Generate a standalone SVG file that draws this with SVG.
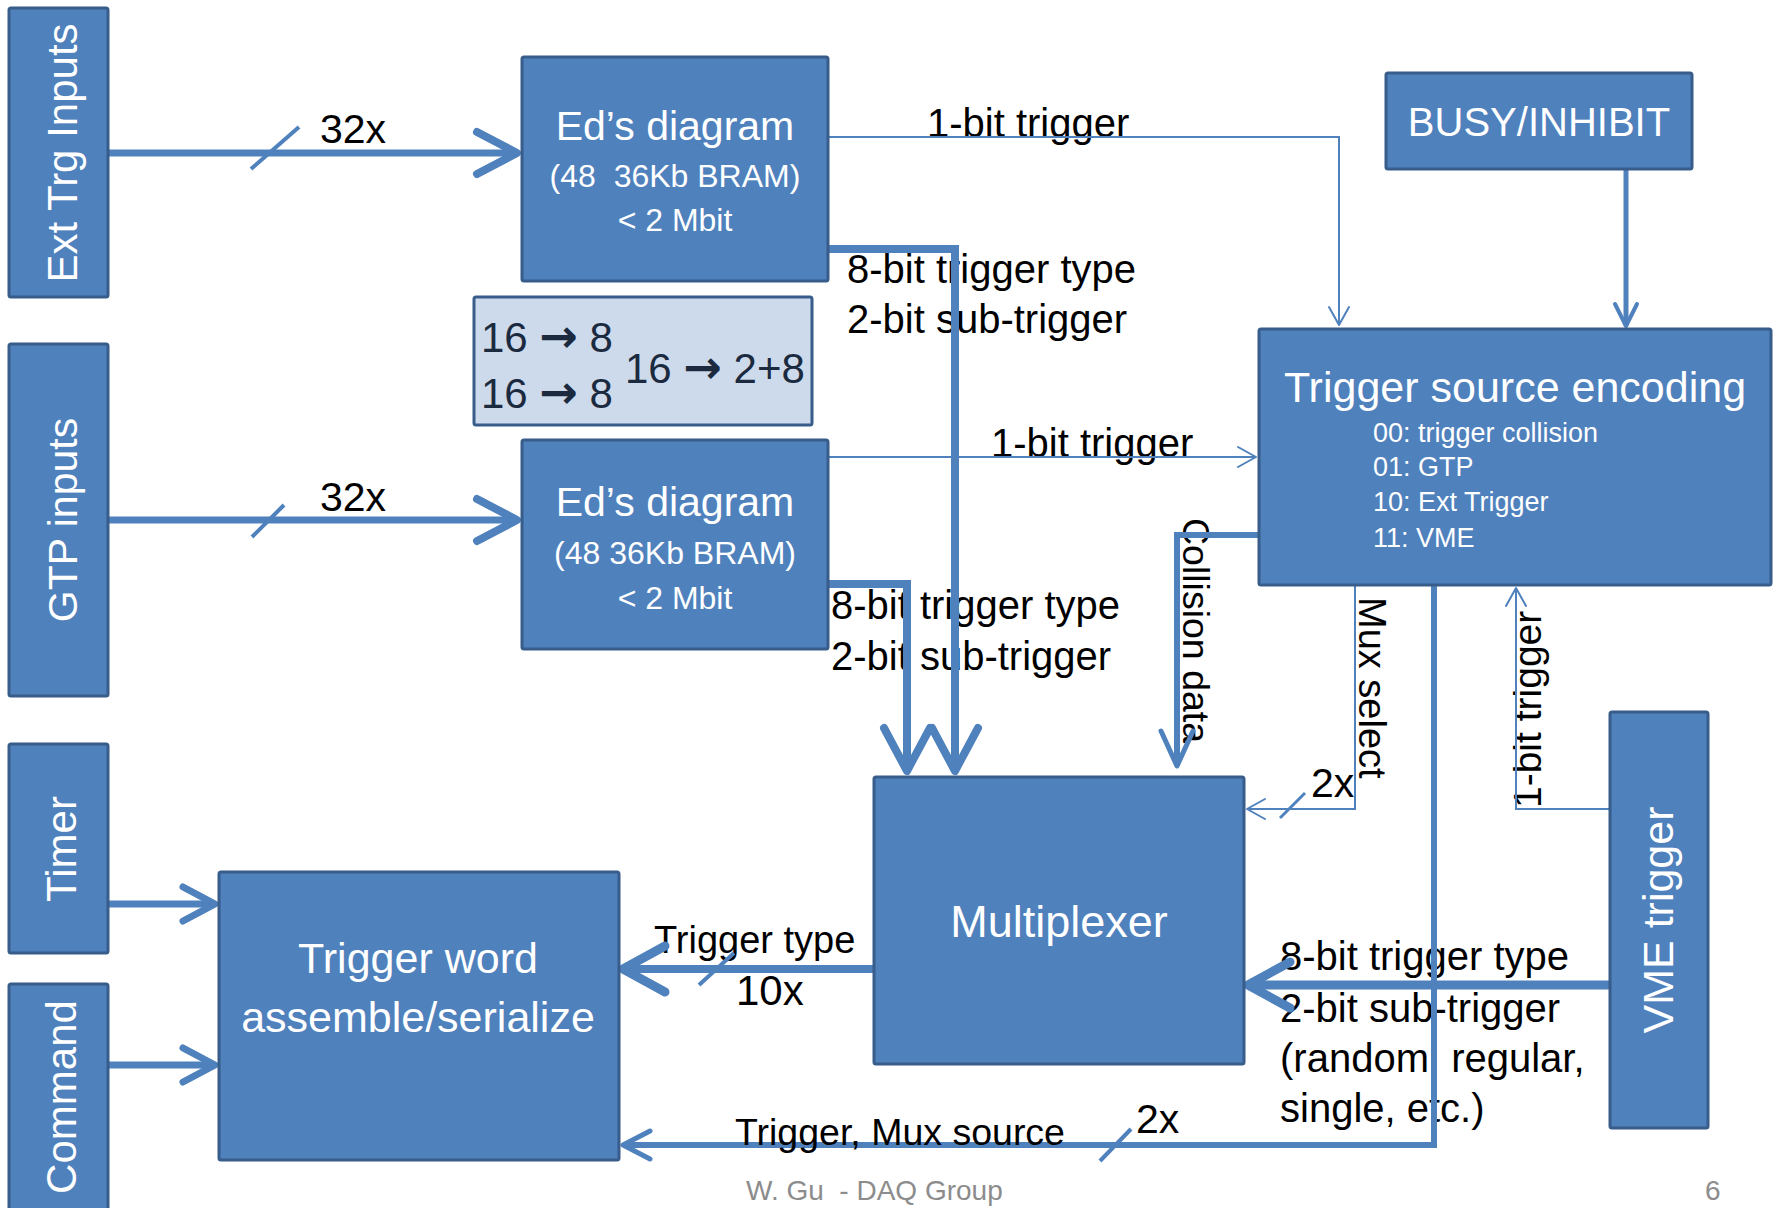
<svg xmlns="http://www.w3.org/2000/svg" width="1778" height="1208" viewBox="0 0 1778 1208">
<style>
.n rect{fill:#4F81BD;stroke:#385D8A;stroke-width:3}
.nt{fill:#fff;font-family:"Liberation Sans",Arial,sans-serif}
.l{fill:#000;font-family:"Liberation Sans",Arial,sans-serif}
.c{fill:none;stroke:#4F81BD;stroke-linejoin:miter}
.mk{fill:none;stroke:#4F81BD;stroke-linecap:round;stroke-linejoin:round}
.rt{font-family:"Liberation Sans",Arial,sans-serif;font-size:42px;fill:#1B2A3F}
.ar{font-family:"DejaVu Sans",sans-serif;font-weight:bold;font-size:46px}
</style>
<defs>
<marker id="aL" markerUnits="userSpaceOnUse" orient="auto" markerWidth="10" markerHeight="10" refX="0" refY="0" style="overflow:visible"><path class="mk" d="M-40,-21 L0,0 L-40,21" stroke-width="8"/></marker>
<marker id="aV" markerUnits="userSpaceOnUse" orient="auto" markerWidth="10" markerHeight="10" refX="0" refY="0" style="overflow:visible"><path class="mk" d="M-43,-23 L0,0 L-43,23" stroke-width="8"/></marker>
<marker id="aXL" markerUnits="userSpaceOnUse" orient="auto" markerWidth="10" markerHeight="10" refX="0" refY="0" style="overflow:visible"><path class="mk" d="M-42,-23 L0,0 L-42,23" stroke-width="9"/></marker>
<marker id="aM" markerUnits="userSpaceOnUse" orient="auto" markerWidth="10" markerHeight="10" refX="0" refY="0" style="overflow:visible"><path class="mk" d="M-32,-17 L0,0 L-32,17" stroke-width="7"/></marker>
<marker id="aC" markerUnits="userSpaceOnUse" orient="auto" markerWidth="10" markerHeight="10" refX="0" refY="0" style="overflow:visible"><path class="mk" d="M-35,-16 L0,0 L-35,16" stroke-width="5"/></marker>
<marker id="aT" markerUnits="userSpaceOnUse" orient="auto" markerWidth="10" markerHeight="10" refX="0" refY="0" style="overflow:visible"><path class="mk" d="M-27,-14 L0,0 L-27,14" stroke-width="5"/></marker>
<marker id="aB" markerUnits="userSpaceOnUse" orient="auto" markerWidth="10" markerHeight="10" refX="0" refY="0" style="overflow:visible"><path class="mk" d="M-22,-11 L0,0 L-22,11" stroke-width="4"/></marker>
<marker id="aS" markerUnits="userSpaceOnUse" orient="auto" markerWidth="10" markerHeight="10" refX="0" refY="0" style="overflow:visible"><path class="mk" d="M-18,-10 L0,0 L-18,10" stroke-width="2"/></marker>
</defs>
<rect x="0" y="0" width="1778" height="1208" fill="#fff"/>

<g id="labels" font-size="40">
<text class="l" x="320" y="143" font-size="41">32x</text>
<text class="l" x="320" y="511" font-size="41">32x</text>
<text class="l" x="927" y="137">1-bit trigger</text>
<text class="l" x="847" y="283">8-bit trigger type</text>
<text class="l" x="847" y="333">2-bit sub-trigger</text>
<text class="l" x="991" y="457">1-bit trigger</text>
<text class="l" x="831" y="619">8-bit trigger type</text>
<text class="l" x="831" y="670">2-bit sub-trigger</text>
<text class="l" transform="translate(1183,518) rotate(90)" font-size="37.5">Collision data</text>
<text class="l" transform="translate(1359,597) rotate(90)" font-size="38">Mux select</text>
<text class="l" transform="translate(1541,808) rotate(-90)" font-size="39">1-bit trigger</text>
<text class="l" x="1311" y="797" font-size="41">2x</text>
<text class="l" x="1136" y="1133" font-size="41">2x</text>
<text class="l" x="654" y="953" font-size="38">Trigger type</text>
<text class="l" x="736" y="1005" font-size="42">10x</text>
<text class="l" x="1280" y="970">8-bit trigger type</text>
<text class="l" x="1280" y="1022">2-bit sub-trigger</text>
<text class="l" x="1280" y="1072">(random, regular,</text>
<text class="l" x="1280" y="1122">single, etc.)</text>
<text x="746" y="1200" font-family="Liberation Sans, Arial, sans-serif" font-size="28" fill="#8C8C8C" xml:space="preserve">W. Gu  - DAQ Group</text>
<text x="1705" y="1200" font-family="Liberation Sans, Arial, sans-serif" font-size="28" fill="#8C8C8C">6</text>
</g>

<g id="connectors">
<path class="c" d="M108,153 H517" stroke-width="7" marker-end="url(#aL)"/>
<path class="c" d="M251,169 L299,127" stroke-width="4"/>
<path class="c" d="M108,520 H517" stroke-width="7" marker-end="url(#aL)"/>
<path class="c" d="M252,537 L284,505" stroke-width="4"/>
<path class="c" d="M828,137 H1339 V325" stroke-width="2" marker-end="url(#aS)"/>
<path class="c" d="M828,249 H955 V771" stroke-width="8" marker-end="url(#aV)"/>
<path class="c" d="M828,457 H1256" stroke-width="2" marker-end="url(#aS)"/>
<path class="c" d="M828,584 H907 V771" stroke-width="8" marker-end="url(#aV)"/>
<path class="c" d="M1259,535 H1177 V766" stroke-width="6" marker-end="url(#aC)"/>
<path class="c" d="M1355,585 V809 H1247" stroke-width="2" marker-end="url(#aS)"/>
<path class="c" d="M1280,818 L1305,793" stroke-width="3"/>
<path class="c" d="M1434,585 V1145 H623" stroke-width="6" marker-end="url(#aT)"/>
<path class="c" d="M1100,1161 L1131,1129" stroke-width="4"/>
<path class="c" d="M1610,809 H1516 V588" stroke-width="2" marker-end="url(#aS)"/>
<path class="c" d="M1610,985 H1248" stroke-width="9" marker-end="url(#aXL)"/>
<path class="c" d="M874,969 H623" stroke-width="8" marker-end="url(#aXL)"/>
<path class="c" d="M699,985 L734,953" stroke-width="4"/>
<path class="c" d="M1626,170 V326" stroke-width="5" marker-end="url(#aB)"/>
<path class="c" d="M108,904 H215" stroke-width="7" marker-end="url(#aM)"/>
<path class="c" d="M108,1065 H215" stroke-width="7" marker-end="url(#aM)"/>
</g>

<g id="labels-top">
<text class="l" x="735" y="1145" font-size="37.5">Trigger, Mux source</text>
</g>

<g id="ext" class="n"><rect x="9" y="8" width="99" height="289" rx="2"/>
<text class="nt" transform="translate(77,153) rotate(-90)" text-anchor="middle" font-size="42">Ext Trg Inputs</text></g>
<g id="gtp" class="n"><rect x="9" y="344" width="99" height="352" rx="2"/>
<text class="nt" transform="translate(77,520) rotate(-90)" text-anchor="middle" font-size="41">GTP inputs</text></g>
<g id="timer" class="n"><rect x="9" y="744" width="99" height="209" rx="2"/>
<text class="nt" transform="translate(76,849) rotate(-90)" text-anchor="middle" font-size="42">Timer</text></g>
<g id="command" class="n"><rect x="9" y="984" width="99" height="240" rx="2"/>
<text class="nt" transform="translate(76,1097) rotate(-90)" text-anchor="middle" font-size="42">Command</text></g>
<g id="ed1" class="n"><rect x="522" y="57" width="306" height="224" rx="2"/>
<text class="nt" x="675" y="140" text-anchor="middle" font-size="41">Ed’s diagram</text>
<text class="nt" x="675" y="187" text-anchor="middle" font-size="32" xml:space="preserve">(48  36Kb BRAM)</text>
<text class="nt" x="675" y="231" text-anchor="middle" font-size="32">&lt; 2 Mbit</text></g>
<g id="ed2" class="n"><rect x="522" y="440" width="306" height="209" rx="2"/>
<text class="nt" x="675" y="516" text-anchor="middle" font-size="41">Ed’s diagram</text>
<text class="nt" x="675" y="564" text-anchor="middle" font-size="32">(48 36Kb BRAM)</text>
<text class="nt" x="675" y="609" text-anchor="middle" font-size="32">&lt; 2 Mbit</text></g>
<g id="ratio"><rect x="474" y="297" width="338" height="128" rx="2" fill="#CDDAEB" stroke="#385D8A" stroke-width="3"/>
<text class="rt" x="481" y="352" xml:space="preserve">16 <tspan class="ar">→</tspan> 8</text>
<text class="rt" x="481" y="408" xml:space="preserve">16 <tspan class="ar">→</tspan> 8</text>
<text class="rt" x="625" y="383" xml:space="preserve">16 <tspan class="ar">→</tspan> 2+8</text></g>
<g id="busy" class="n"><rect x="1386" y="73" width="306" height="96" rx="2"/>
<text class="nt" x="1539" y="136" text-anchor="middle" font-size="40">BUSY/INHIBIT</text></g>
<g id="tse" class="n"><rect x="1259" y="329" width="512" height="256" rx="2"/>
<text class="nt" x="1515" y="402" text-anchor="middle" font-size="43">Trigger source encoding</text>
<text class="nt" x="1373" y="442" font-size="27">00: trigger collision</text>
<text class="nt" x="1373" y="476" font-size="27">01: GTP</text>
<text class="nt" x="1373" y="511" font-size="27">10: Ext Trigger</text>
<text class="nt" x="1373" y="547" font-size="27">11: VME</text></g>
<g id="mux" class="n"><rect x="874" y="777" width="370" height="287" rx="2"/>
<text class="nt" x="1059" y="937" text-anchor="middle" font-size="45">Multiplexer</text></g>
<g id="tw" class="n"><rect x="219" y="872" width="400" height="288" rx="2"/>
<text class="nt" x="418" y="973" text-anchor="middle" font-size="43">Trigger word</text>
<text class="nt" x="418" y="1032" text-anchor="middle" font-size="43">assemble/serialize</text></g>
<g id="vme" class="n"><rect x="1610" y="712" width="98" height="416" rx="2"/>
<text class="nt" transform="translate(1673,920) rotate(-90)" text-anchor="middle" font-size="43">VME trigger</text></g>
</svg>
